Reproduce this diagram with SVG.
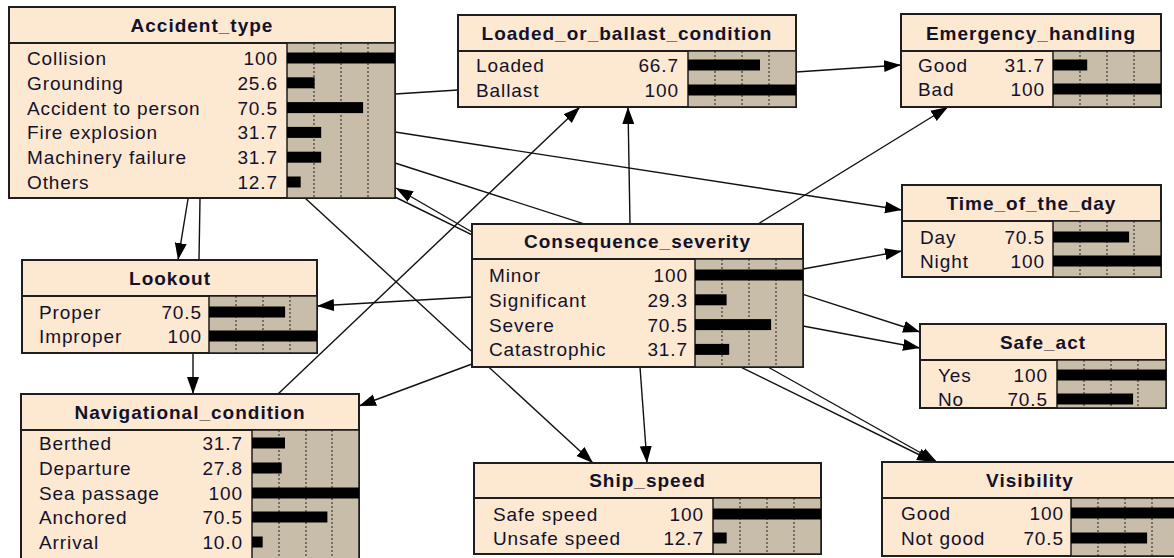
<svg xmlns="http://www.w3.org/2000/svg" width="1174" height="558" viewBox="0 0 1174 558">
<style>
.box{fill:#FDE8D2;stroke:#1e1e1e;stroke-width:2}
.bars{fill:#C8BDA9;stroke:#1e1e1e;stroke-width:1.5}
.sep{stroke:#1e1e1e;stroke-width:2}
.dot{stroke:#222;stroke-width:1;stroke-dasharray:2 2}
.bar{fill:#000}
.hd{font-family:"Liberation Sans",Arial,sans-serif;font-weight:bold;font-size:19px;letter-spacing:1px;text-anchor:middle;fill:#12122a}
.lb{font-family:"Liberation Sans",Arial,sans-serif;font-size:19px;letter-spacing:0.9px;fill:#12122a}
.v{text-anchor:end}
.edge{stroke:#111;stroke-width:1.4;fill:none}
.arr{marker-end:url(#ah)}
</style>
<defs>
<marker id="ah" markerUnits="userSpaceOnUse" markerWidth="18" markerHeight="14" viewBox="0 0 18 14" refX="17" refY="7" orient="auto">
<path d="M0,1 L17,7 L0,13 z" fill="#000"/>
</marker>
</defs>
<g id="connectors">
<path class="edge arr" d="M188,199 L178,260"/>
<path class="edge" d="M200,199 L199,260"/>
<path class="edge" d="M395,94 L458,90"/>
<path class="edge arr" d="M395,132 L902,210"/>
<path class="edge arr" d="M395,163 L920,332"/>
<path class="edge arr" d="M803,326 L920,348"/>
<path class="edge arr" d="M472,232 L396,188"/>
<path class="edge arr" d="M395,197 L934,462"/>
<path class="edge arr" d="M768,367 L937,462"/>
<path class="edge arr" d="M803,269 L902,251"/>
<path class="edge arr" d="M758,224 L948,107"/>
<path class="edge arr" d="M796,72 L901,65"/>
<path class="edge arr" d="M630,224 L628,107"/>
<path class="edge arr" d="M278,394 L580,107"/>
<path class="edge arr" d="M472,297 L317,306"/>
<path class="edge arr" d="M472,364 L359,406"/>
<path class="edge arr" d="M193,353 L193,394"/>
<path class="edge arr" d="M305,198 L593,463"/>
<path class="edge arr" d="M640,367 L647,463"/>
</g>
<g id="Accident_type">
<rect class="box" x="9" y="7" width="386" height="191"/>
<line class="sep" x1="9" y1="43" x2="395" y2="43"/>
<rect class="bars" x="287" y="43" width="108" height="155"/>
<line class="dot" x1="314" y1="43" x2="314" y2="198"/><line class="dot" x1="341" y1="43" x2="341" y2="198"/><line class="dot" x1="368" y1="43" x2="368" y2="198"/>
<text class="hd" x="202" y="32">Accident_type</text>
<rect class="bar" x="287" y="52.5" width="108" height="11"/>
<rect class="bar" x="287" y="77.3" width="27.6" height="11"/>
<rect class="bar" x="287" y="102.1" width="76.1" height="11"/>
<rect class="bar" x="287" y="126.9" width="34.2" height="11"/>
<rect class="bar" x="287" y="151.7" width="34.2" height="11"/>
<rect class="bar" x="287" y="176.5" width="13.7" height="11"/>
<text class="lb" x="27" y="65">Collision</text><text class="lb v" x="278" y="65">100</text>
<text class="lb" x="27" y="89.8">Grounding</text><text class="lb v" x="278" y="89.8">25.6</text>
<text class="lb" x="27" y="114.6">Accident to person</text><text class="lb v" x="278" y="114.6">70.5</text>
<text class="lb" x="27" y="139.4">Fire explosion</text><text class="lb v" x="278" y="139.4">31.7</text>
<text class="lb" x="27" y="164.2">Machinery failure</text><text class="lb v" x="278" y="164.2">31.7</text>
<text class="lb" x="27" y="189">Others</text><text class="lb v" x="278" y="189">12.7</text>
</g>
<g id="Loaded_or_ballast_condition">
<rect class="box" x="458" y="15" width="338" height="92"/>
<line class="sep" x1="458" y1="51" x2="796" y2="51"/>
<rect class="bars" x="688" y="51" width="108" height="56"/>
<line class="dot" x1="715" y1="51" x2="715" y2="107"/><line class="dot" x1="742" y1="51" x2="742" y2="107"/><line class="dot" x1="769" y1="51" x2="769" y2="107"/>
<text class="hd" x="627" y="40">Loaded_or_ballast_condition</text>
<rect class="bar" x="688" y="59.5" width="72" height="11"/>
<rect class="bar" x="688" y="84.5" width="108" height="11"/>
<text class="lb" x="476" y="72">Loaded</text><text class="lb v" x="679" y="72">66.7</text>
<text class="lb" x="476" y="97">Ballast</text><text class="lb v" x="679" y="97">100</text>
</g>
<g id="Emergency_handling">
<rect class="box" x="901" y="14" width="260" height="93"/>
<line class="sep" x1="901" y1="51" x2="1161" y2="51"/>
<rect class="bars" x="1053" y="51" width="108" height="56"/>
<line class="dot" x1="1080" y1="51" x2="1080" y2="107"/><line class="dot" x1="1107" y1="51" x2="1107" y2="107"/><line class="dot" x1="1134" y1="51" x2="1134" y2="107"/>
<text class="hd" x="1031" y="40">Emergency_handling</text>
<rect class="bar" x="1053" y="59.5" width="34.2" height="11"/>
<rect class="bar" x="1053" y="83.5" width="108" height="11"/>
<text class="lb" x="918" y="72">Good</text><text class="lb v" x="1045" y="72">31.7</text>
<text class="lb" x="918" y="96">Bad</text><text class="lb v" x="1045" y="96">100</text>
</g>
<g id="Consequence_severity">
<rect class="box" x="472" y="224" width="331" height="143"/>
<line class="sep" x1="472" y1="259" x2="803" y2="259"/>
<rect class="bars" x="695" y="259" width="108" height="108"/>
<line class="dot" x1="722" y1="259" x2="722" y2="367"/><line class="dot" x1="749" y1="259" x2="749" y2="367"/><line class="dot" x1="776" y1="259" x2="776" y2="367"/>
<text class="hd" x="637.5" y="248">Consequence_severity</text>
<rect class="bar" x="695" y="269.5" width="108" height="11"/>
<rect class="bar" x="695" y="294.3" width="31.6" height="11"/>
<rect class="bar" x="695" y="319.1" width="76.1" height="11"/>
<rect class="bar" x="695" y="343.9" width="34.2" height="11"/>
<text class="lb" x="489" y="282">Minor</text><text class="lb v" x="688" y="282">100</text>
<text class="lb" x="489" y="306.8">Significant</text><text class="lb v" x="688" y="306.8">29.3</text>
<text class="lb" x="489" y="331.6">Severe</text><text class="lb v" x="688" y="331.6">70.5</text>
<text class="lb" x="489" y="356.4">Catastrophic</text><text class="lb v" x="688" y="356.4">31.7</text>
</g>
<g id="Lookout">
<rect class="box" x="22" y="260" width="295" height="93"/>
<line class="sep" x1="22" y1="296" x2="317" y2="296"/>
<rect class="bars" x="209" y="296" width="108" height="57"/>
<line class="dot" x1="236" y1="296" x2="236" y2="353"/><line class="dot" x1="263" y1="296" x2="263" y2="353"/><line class="dot" x1="290" y1="296" x2="290" y2="353"/>
<text class="hd" x="170" y="285">Lookout</text>
<rect class="bar" x="209" y="306.5" width="76.1" height="11"/>
<rect class="bar" x="209" y="330.5" width="108" height="11"/>
<text class="lb" x="39" y="319">Proper</text><text class="lb v" x="202" y="319">70.5</text>
<text class="lb" x="39" y="343">Improper</text><text class="lb v" x="202" y="343">100</text>
</g>
<g id="Navigational_condition">
<rect class="box" x="21" y="394" width="338" height="176"/>
<line class="sep" x1="21" y1="430" x2="359" y2="430"/>
<rect class="bars" x="252" y="430" width="107" height="140"/>
<line class="dot" x1="279" y1="430" x2="279" y2="570"/><line class="dot" x1="306" y1="430" x2="306" y2="570"/><line class="dot" x1="332" y1="430" x2="332" y2="570"/>
<text class="hd" x="190" y="419">Navigational_condition</text>
<rect class="bar" x="252" y="437.5" width="33" height="11"/>
<rect class="bar" x="252" y="462.5" width="29.7" height="11"/>
<rect class="bar" x="252" y="487.5" width="107" height="11"/>
<rect class="bar" x="252" y="511.5" width="75.4" height="11"/>
<rect class="bar" x="252" y="536.5" width="10.7" height="11"/>
<text class="lb" x="39" y="450">Berthed</text><text class="lb v" x="243" y="450">31.7</text>
<text class="lb" x="39" y="475">Departure</text><text class="lb v" x="243" y="475">27.8</text>
<text class="lb" x="39" y="500">Sea passage</text><text class="lb v" x="243" y="500">100</text>
<text class="lb" x="39" y="524">Anchored</text><text class="lb v" x="243" y="524">70.5</text>
<text class="lb" x="39" y="549">Arrival</text><text class="lb v" x="243" y="549">10.0</text>
</g>
<g id="Ship_speed">
<rect class="box" x="474" y="463" width="347" height="91"/>
<line class="sep" x1="474" y1="498" x2="821" y2="498"/>
<rect class="bars" x="713" y="498" width="108" height="56"/>
<line class="dot" x1="740" y1="498" x2="740" y2="554"/><line class="dot" x1="767" y1="498" x2="767" y2="554"/><line class="dot" x1="794" y1="498" x2="794" y2="554"/>
<text class="hd" x="647.5" y="487">Ship_speed</text>
<rect class="bar" x="713" y="508.5" width="108" height="11"/>
<rect class="bar" x="713" y="532.5" width="13.7" height="11"/>
<text class="lb" x="493" y="521">Safe speed</text><text class="lb v" x="704" y="521">100</text>
<text class="lb" x="493" y="545">Unsafe speed</text><text class="lb v" x="704" y="545">12.7</text>
</g>
<g id="Time_of_the_day">
<rect class="box" x="902" y="185" width="259" height="92"/>
<line class="sep" x1="902" y1="221" x2="1161" y2="221"/>
<rect class="bars" x="1053" y="221" width="108" height="56"/>
<line class="dot" x1="1080" y1="221" x2="1080" y2="277"/><line class="dot" x1="1107" y1="221" x2="1107" y2="277"/><line class="dot" x1="1134" y1="221" x2="1134" y2="277"/>
<text class="hd" x="1031.5" y="210">Time_of_the_day</text>
<rect class="bar" x="1053" y="231.5" width="76.1" height="11"/>
<rect class="bar" x="1053" y="255.5" width="108" height="11"/>
<text class="lb" x="920" y="244">Day</text><text class="lb v" x="1045" y="244">70.5</text>
<text class="lb" x="920" y="268">Night</text><text class="lb v" x="1045" y="268">100</text>
</g>
<g id="Safe_act">
<rect class="box" x="920" y="324" width="246" height="84"/>
<line class="sep" x1="920" y1="360" x2="1166" y2="360"/>
<rect class="bars" x="1057" y="360" width="109" height="48"/>
<line class="dot" x1="1084" y1="360" x2="1084" y2="408"/><line class="dot" x1="1111" y1="360" x2="1111" y2="408"/><line class="dot" x1="1138" y1="360" x2="1138" y2="408"/>
<text class="hd" x="1043" y="349">Safe_act</text>
<rect class="bar" x="1057" y="369.5" width="109" height="11"/>
<rect class="bar" x="1057" y="393.5" width="76.1" height="11"/>
<text class="lb" x="938" y="382">Yes</text><text class="lb v" x="1048" y="382">100</text>
<text class="lb" x="938" y="406">No</text><text class="lb v" x="1048" y="406">70.5</text>
</g>
<g id="Visibility">
<rect class="box" x="882" y="462" width="297" height="94"/>
<line class="sep" x1="882" y1="498" x2="1179" y2="498"/>
<rect class="bars" x="1071" y="498" width="108" height="58"/>
<line class="dot" x1="1098" y1="498" x2="1098" y2="556"/><line class="dot" x1="1125" y1="498" x2="1125" y2="556"/><line class="dot" x1="1152" y1="498" x2="1152" y2="556"/>
<text class="hd" x="1030" y="487">Visibility</text>
<rect class="bar" x="1071" y="507.5" width="108" height="11"/>
<rect class="bar" x="1071" y="532.5" width="76.1" height="11"/>
<text class="lb" x="901" y="520">Good</text><text class="lb v" x="1064" y="520">100</text>
<text class="lb" x="901" y="545">Not good</text><text class="lb v" x="1064" y="545">70.5</text>
</g>
</svg>
